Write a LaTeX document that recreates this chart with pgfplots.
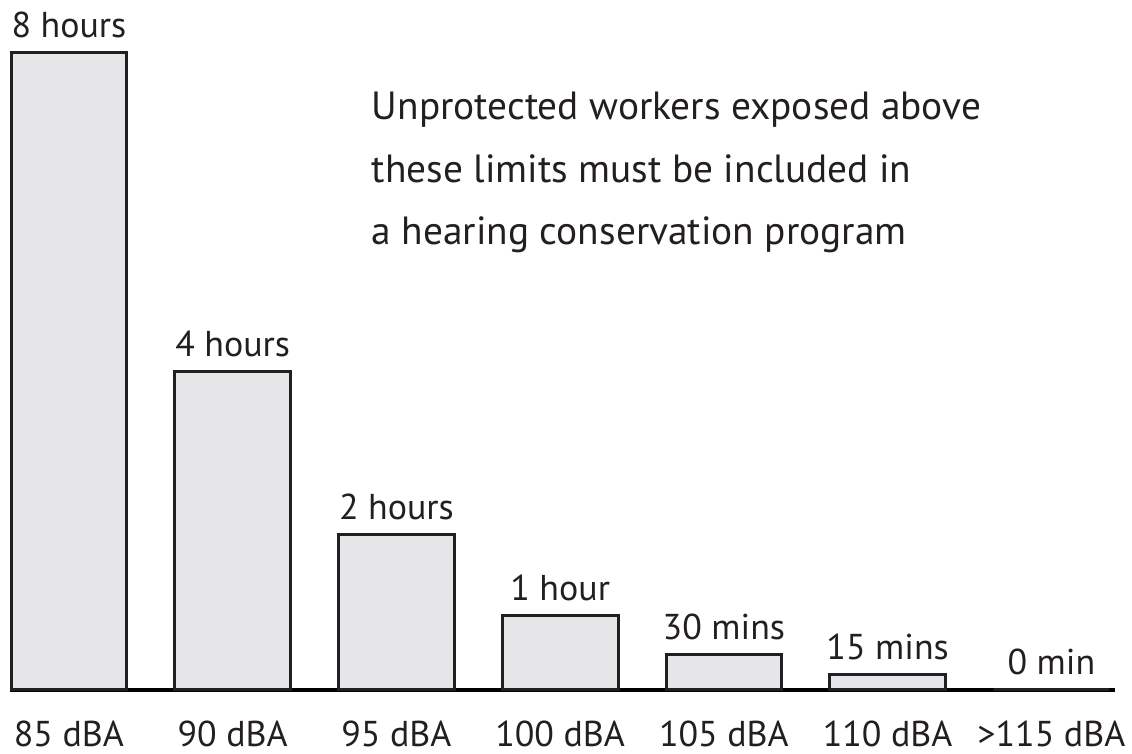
\documentclass[border=0pt]{standalone}
\usepackage{pgfplots}
\usepackage{pgfplotstable}
\pgfplotsset{compat=1.18}
\usepackage{fontspec}
\setmainfont{PT Sans}
\definecolor{barfill}{HTML}{E6E6E8}
\definecolor{txt}{HTML}{231F20}

\pgfplotstableread[col sep=comma]{
x,y,label
0,8,8 hours
1,4,4 hours
2,1.95,2 hours
3,0.94,1 hour
4,0.44,30 mins
5,0.2,15 mins
6,0,0 min
}\data

\begin{document}
\begin{tikzpicture}
\begin{axis}[
  x=82pt, y=39.875pt,
  xmin=-0.36, xmax=6.39, ymin=0, ymax=8.6,
  axis x line*=bottom,
  hide y axis,
  x axis line style={line width=2pt,-},
  xtick={0,1,2,3,4,5,6},
  xticklabels={85 dBA,90 dBA,95 dBA,100 dBA,105 dBA,110 dBA,>115 dBA},
  major tick length=0pt,
  xticklabel style={anchor=base, yshift=-28.5pt, font=\fontsize{18}{20}\selectfont, text=txt},
  clip=false,
  axis on top=false,
]
\path (axis cs:-0.421,-0.79) rectangle (axis cs:6.482,8.665);
\addplot[ybar, bar width=58pt, fill=barfill, draw=txt, line width=1.5pt,
  nodes near coords, point meta=explicit symbolic,
  every node near coord/.append style={anchor=base, yshift=7.5pt, font=\fontsize{18}{20}\selectfont, text=txt}]
  table[x=x, y=y, meta=label] {\data};
\node[anchor=north west, align=left, inner sep=0pt, text=txt,
  font=\fontsize{19.7}{31.5}\selectfont] at (axis cs:1.848,7.52)
  {Unprotected workers exposed above\\these limits must be included in\\a hearing conservation program};
\end{axis}
\end{tikzpicture}
\end{document}
